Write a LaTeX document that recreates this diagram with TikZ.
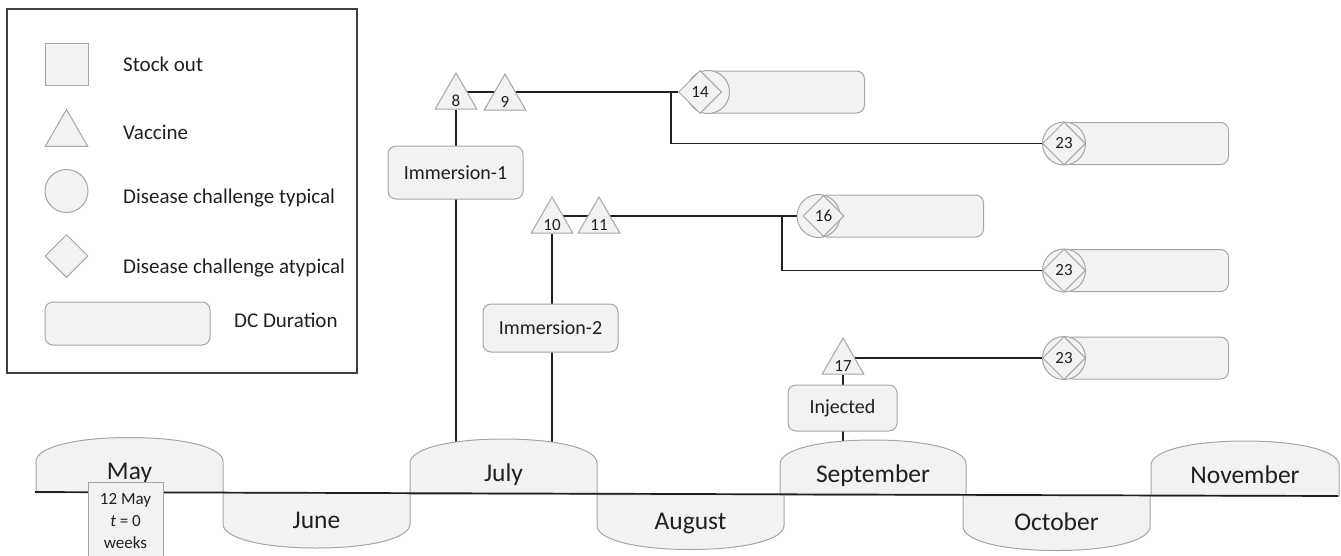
\documentclass[tikz,border=0pt]{standalone}
\usepackage{fontspec}
\setmainfont{Carlito}
\usetikzlibrary{shapes.geometric,backgrounds,calc}

\definecolor{shapefill}{HTML}{F2F2F2}
\definecolor{shapeline}{HTML}{A6A6A6}
\definecolor{inkline}{HTML}{231F20}
\definecolor{legendline}{HTML}{3F3F3F}

\tikzset{
  link/.style={draw=inkline, line width=1.7pt},
  gshape/.style={fill=shapefill, draw=shapeline, line width=1pt},
  numlbl/.style={font=\fontsize{17}{20}\selectfont, text=inkline, yshift=-4pt, inner sep=0pt},
  vacc/.style={gshape, regular polygon, regular polygon sides=3, minimum size=48pt,
               inner sep=0pt, label={[numlbl]center:#1}},
  typc/.style={gshape, circle, minimum size=43pt, inner sep=0pt},
  atyp/.style={gshape, diamond, minimum size=43pt, inner sep=0pt,
               font=\fontsize{17}{20}\selectfont, text=inkline},
  dcbar/.style={gshape, rounded corners=8pt, minimum width=164pt, minimum height=42pt, anchor=west},
  evbox/.style={gshape, rounded corners=8pt, font=\fontsize{20}{24}\selectfont, text=inkline},
  monthlbl/.style={font=\fontsize{25.5}{30}\selectfont, text=inkline, text height=16pt, text depth=0pt},
  legtxt/.style={anchor=west, font=\fontsize{21}{25}\selectfont, text=inkline,
                 text height=13.5pt, text depth=0pt, inner sep=0pt},
}

\begin{document}
\begin{tikzpicture}[x=1pt,y=-1pt]
    \useasboundingbox (0,0) rectangle (1341,555);

    % Month shapes above and below the time line
    \foreach \mname/\xa/\xb/\yb/\dir in {May/36/223/492.5/1, June/223/410/493/-1,
        July/410/597/494/1, August/597/784/494.5/-1, September/780/966/495/1,
        October/963/1150/495.5/-1, November/1151/1339/496/1}
    {
        \pgfmathsetmacro\xm{(\xa+\xb)/2}
        \pgfmathsetmacro\ys{\yb-31*\dir}
        \pgfmathsetmacro\yc{\yb-45*\dir}
        \pgfmathsetmacro\yt{\yb-55*\dir}
        \filldraw[gshape] (\xa,\yb) -- (\xa,\ys) .. controls (\xa,\yc) and (\xm-55,\yt) .. (\xm,\yt)
            .. controls (\xm+55,\yt) and (\xb,\yc) .. (\xb,\ys) -- (\xb,\yb) -- cycle;
        \node[monthlbl] (m-\mname) at (\xm,\yb-24*\dir+3) {\mname};
    }

    % The time line
    \coordinate (tl-start) at (35,492);
    \coordinate (tl-end) at (1338,496);
    \draw[link] (tl-start) -- (tl-end);

    % Start of the trial
    \node[gshape, minimum width=75pt, minimum height=78pt, inner sep=0pt, align=center,
          font=\fontsize{17}{22}\selectfont, text=inkline] (start) at (125.5,521)
          {12 May\\\textit{t} = 0\\weeks};

    % Legend
    \draw[draw=legendline, line width=1.2pt] (7,9) rectangle (357,373);
    \node[gshape, minimum width=43pt, minimum height=42pt, inner sep=0pt] (lg-stock) at (66.5,64) {};
    \node[gshape, regular polygon, regular polygon sides=3, minimum size=49pt, inner sep=0pt] (lg-vacc) at (66.5,134) {};
    \node[typc] (lg-typ) at (66.5,191) {};
    \node[atyp] (lg-atyp) at (66.5,256) {};
    \node[evbox, minimum width=165pt, minimum height=43pt] (lg-dc) at (127.5,323.5) {};
    \node[legtxt] (lt-stock) at (123,65) {Stock out};
    \node[legtxt] (lt-vacc) at (123,133) {Vaccine};
    \node[legtxt] (lt-typ) at (123,197) {Disease challenge typical};
    \node[legtxt] (lt-atyp) at (123,267) {Disease challenge atypical};
    \node[legtxt] (lt-dc) at (234,321) {DC Duration};

    % Vaccinations and how they were given
    \node[vacc=8] (t8) at (456,97) {};
    \node[vacc=9] (t9) at (505,98) {};
    \node[vacc=10] (t10) at (552,221) {};
    \node[vacc=11] (t11) at (599,221) {};
    \node[vacc=17] (t17) at (843,362) {};
    \node[evbox, minimum width=135pt, minimum height=53pt] (imm1) at (455.5,172.5) {Immersion-1};
    \node[evbox, minimum width=135pt, minimum height=48pt] (imm2) at (550.5,328) {Immersion-2};
    \node[evbox, minimum width=109pt, minimum height=46pt] (inj) at (842.5,408) {Injected};

    % Disease challenges with their duration
    \node[dcbar, minimum width=160pt] (d14) at (704,92) {};
    \node[typc] (c14) at (708,92) {};
    \node[atyp] (k14) at (700,92) {14};
    \node[dcbar] (d16) at (819,216) {};
    \node[typc] (c16) at (818.5,216) {};
    \node[atyp, minimum size=41pt] (k16) at (823.5,216) {16};
    \node[dcbar] (d23a) at (1064,143.5) {};
    \node[typc] (c23a) at (1064,143.5) {};
    \node[atyp] (k23a) at (1064,143.5) {23};
    \node[dcbar] (d23b) at (1064,270.5) {};
    \node[typc] (c23b) at (1064,270.5) {};
    \node[atyp] (k23b) at (1064,270.5) {23};
    \node[dcbar] (d23c) at (1064,358) {};
    \node[typc] (c23c) at (1064,358) {};
    \node[atyp] (k23c) at (1064,358) {23};

    % Connectors, behind the shapes
    \coordinate (j0) at (445,92);
    \coordinate (j1) at (671,92);
    \coordinate (j2) at (782,216);
    \begin{pgfonlayer}{background}
        \draw[link] (j0) -- (k14);
        \draw[link] (j1) |- (c23a);
        \draw[link] (t8) -- (t8 |- m-July);
        \draw[link] (t10 |- c16) -- (c16);
        \draw[link] (j2) |- (c23b);
        \draw[link] (t10) -- (t10 |- m-July);
        \draw[link] (t17 |- c23c) -- (c23c);
        \draw[link] (t17) -- (t17 |- m-September);
    \end{pgfonlayer}
\end{tikzpicture}
\end{document}
